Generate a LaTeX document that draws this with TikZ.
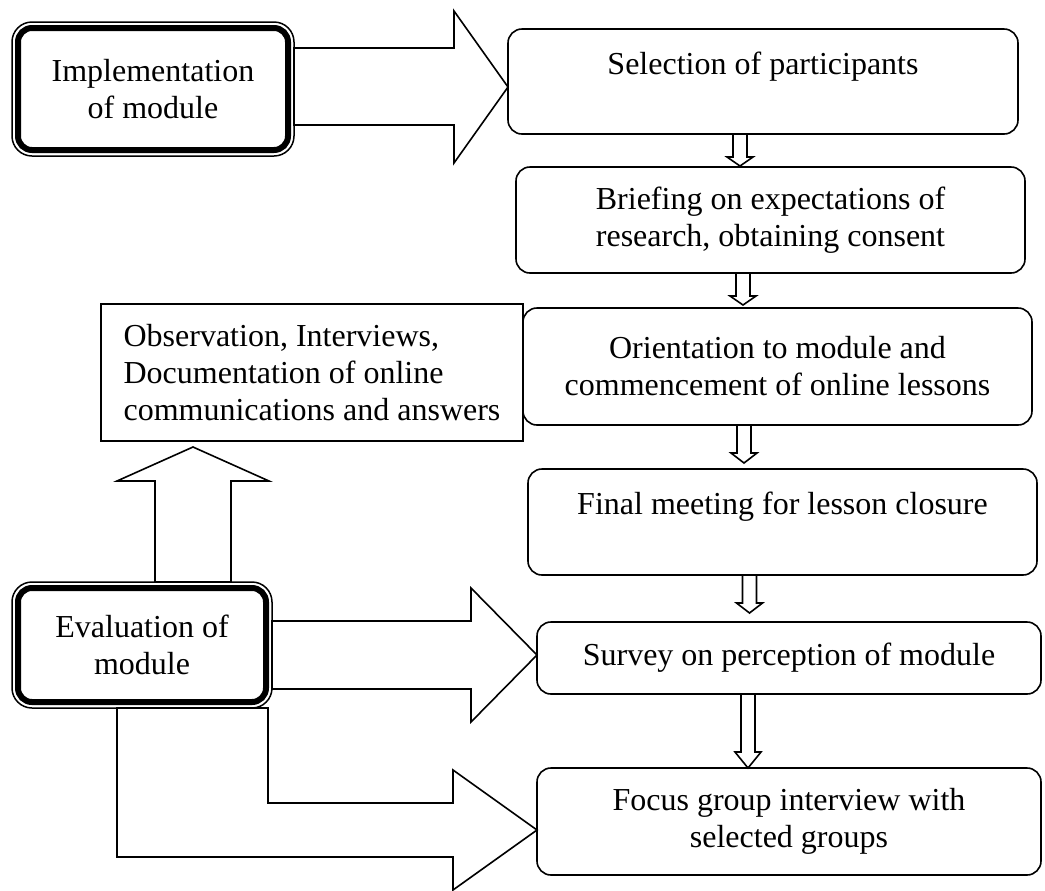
\documentclass[tikz,border=0pt]{standalone}
\usepackage{fontspec}
\setmainfont{Liberation Serif}
\usepackage{tikz}
\usetikzlibrary{calc}

\tikzset{
    stagebox/.style={draw, line width=0.8pt, rounded corners=7pt, align=center, inner sep=0pt, outer sep=0pt, font=\fontsize{16}{18.5}\selectfont},
    phasebox/.style={draw, line width=3pt, rounded corners=7pt, align=center, inner sep=0pt, outer sep=0pt, font=\fontsize{16}{18.5}\selectfont},
    notebox/.style={draw, line width=0.8pt, align=left, inner sep=0pt, outer sep=0pt, font=\fontsize{16}{18.5}\selectfont},
    blockarrow/.style={draw, line width=0.8pt, fill=white, line join=miter}
}

% small hollow arrow between two stages: from, to, x, gap, head length
\newcommand{\flowarrow}[5]{%
    \coordinate (ax) at (#3,0);
    \draw[blockarrow] ($(#1.south -| ax)+(-7,0)$) -- ($(#2.north -| ax)+(-7,-#4-#5)$) -- ++(-6,0) -- ($(#2.north -| ax)+(0,-#4)$) -- ++(13,-#5) -- ++(-6,0) -- ($(#1.south -| ax)+(7,0)$) -- cycle;}

\begin{document}
\begin{tikzpicture}[x=0.5pt, y=-0.5pt]
            \useasboundingbox (0,0) rectangle (1045,890);

            % the two phases
            \node[phasebox, minimum width=135pt, minimum height=61pt] at (153, 89)   (impl) {Implementation\\of module};
            \node[phasebox, minimum width=124pt, minimum height=57pt] at (142, 645)   (eval) {Evaluation of\\module};
            \draw[line width=0.75pt, rounded corners=10pt] ($(impl.north west)+(-6,-6)$) rectangle ($(impl.south east)+(6,6)$);
            \draw[line width=0.75pt, rounded corners=10pt] ($(eval.north west)+(-6,-6)$) rectangle ($(eval.south east)+(6,6)$);

            % stages
            \node[stagebox, minimum width=255pt, minimum height=52.5pt] at (763, 81.5)   (sel) {Selection of participants\\\mbox{}};
            \node[stagebox, minimum width=254.5pt, minimum height=53pt] at (770.5, 220)   (brief) {Briefing on expectations of\\research, obtaining consent};
            \node[stagebox, minimum width=254.5pt, minimum height=58.5pt] at (777.5, 366.5)   (orient) {Orientation to module and\\commencement of online lessons};
            \node[stagebox, minimum width=254.5pt, minimum height=53pt] at (782.5, 522)   (final) {Final meeting for lesson closure\\\mbox{}};
            \node[stagebox, minimum width=252pt, minimum height=36pt] at (789, 658)   (survey) {Survey on perception of module};
            \node[stagebox, minimum width=252pt, minimum height=53.5pt] at (789, 821.5)   (focus) {Focus group interview with\\selected groups};
            \node[notebox, minimum width=211pt, minimum height=68.5pt] at (312, 372.5)   (obs) {Observation, Interviews,\\Documentation of online\\communications and answers};

            \flowarrow{sel}{brief}{740}{1}{9}
            \flowarrow{brief}{orient}{743}{3}{9}
            \flowarrow{orient}{final}{744}{6}{10}
            \flowarrow{final}{survey}{749.5}{9}{10}
            \flowarrow{survey}{focus}{748}{0}{16}

            % big arrows
            \draw[blockarrow] ($(sel.west)+(0,5.5)$) -- ++(-54,-76) -- ++(0,37) -- ($(impl.east)+(6,-41)$) -- ++(0,77) -- ++(160,0) -- ++(0,38) -- cycle;
            \draw[blockarrow] ($(survey.west)+(0,-3)$) -- ++(-66,-67) -- ++(0,33) -- ($(eval.east)+(6,-24)$) -- ++(0,68) -- ++(199,0) -- ++(0,33) -- cycle;
            \draw[blockarrow] ($(focus.west)+(0,8.5)$) -- ++(-84,-60) -- ++(0,33) -- ++(-185,0) -- ($(eval.south)+(126,6)$) -- ++(-151,0) -- ++(0,149) -- ++(336,0) -- ++(0,33) -- cycle;
            \draw[blockarrow] ($(obs.south west)+(92,6)$) -- ++(76,34) -- ++(-38,0) -- ($(eval.north)+(89,-6)$) -- ++(-76,0) -- ++(0,-101) -- ++(-38,0) -- cycle;
\end{tikzpicture}
\end{document}
